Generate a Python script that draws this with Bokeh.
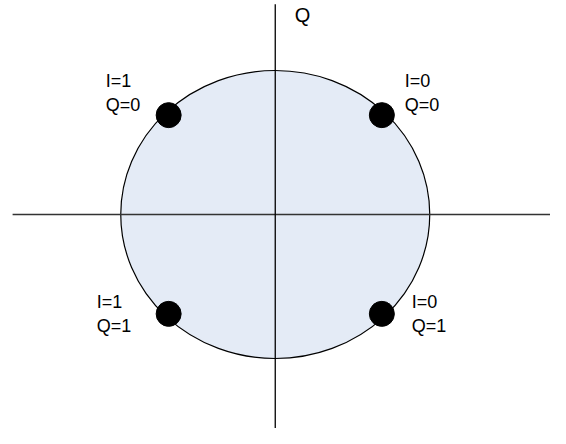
from bokeh.plotting import figure
from bokeh.models import ColumnDataSource, Range1d
from bokeh.embed import file_html
from bokeh.resources import INLINE
from bokeh.core.properties import value

# Constellation points (I/Q plane, unit circle)
pt_x = [-0.69, 0.69, -0.69, 0.69]
pt_y = [0.69, 0.69, -0.69, -0.69]
pt_labels = ["I=1\nQ=0", "I=0\nQ=0", "I=1\nQ=1", "I=0\nQ=1"]
axis_label = "Q"

# label offsets in screen pixels
lab_dx = [-63, 23, -72, 30]
lab_dy = [-22, -22, 0, 0]

src = ColumnDataSource(dict(x=pt_x, y=pt_y, label=pt_labels, dx=lab_dx, dy=lab_dy))

W, H = 550, 428
cx, cy = 274.75, 214.0   # centre in figure px
sx, sy = 154.5, 144.0    # px per unit

p = figure(width=W, height=H, output_backend="svg", toolbar_location=None,
           x_range=Range1d(-cx / sx, (W - cx) / sx),
           y_range=Range1d(-(H - cy) / sy, cy / sy),
           min_border=0, outline_line_color=None)
p.axis.visible = False
p.grid.visible = False
p.background_fill_color = "white"
p.border_fill_color = "white"

# circle
p.ellipse(x=0, y=0, width=2, height=2, fill_color="#e4ebf6",
          line_color="black", line_width=1.2)

# axes lines
p.segment(x0=[-1.70], y0=[0], x1=[2.0], y1=[0], line_color="#333333", line_width=1.5)
p.segment(x0=[0], y0=[1.46], x1=[0], y1=[-1.6], line_color="black", line_width=1.3)

# points
p.scatter("x", "y", source=src, size=25, fill_color="black", line_color="black")

# labels
p.text("x", "y", text="label", source=src, x_offset="dx", y_offset="dy",
       text_align="left", text_baseline="middle",
       text_font=value("Liberation Sans"), text_font_size="18px",
       text_color="black", text_line_height=1.2)

p.text(x=[0.176], y=[1.382], text=[axis_label], text_align="center",
       text_baseline="middle", text_font=value("Liberation Sans"),
       text_font_size="20px", text_color="black")

open("out.html", "w").write(file_html(p, INLINE))
